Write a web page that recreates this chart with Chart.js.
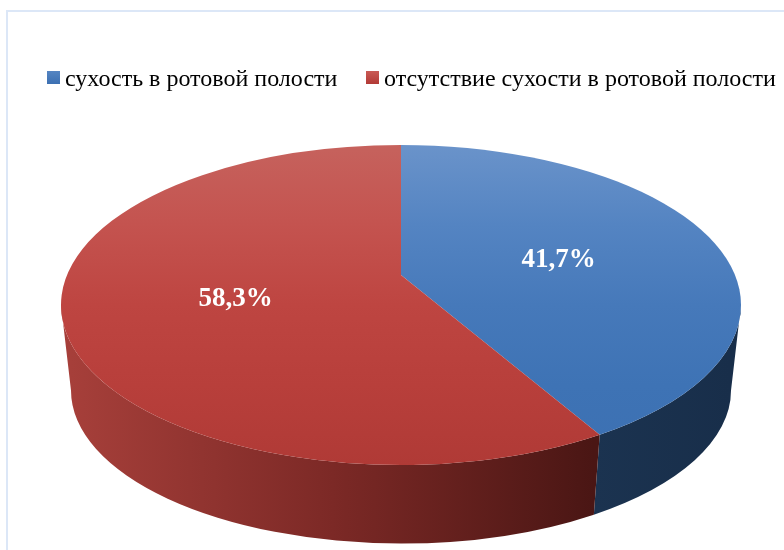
<!DOCTYPE html>
<html lang="ru">
<head>
<meta charset="utf-8">
<title>Сухость в ротовой полости</title>
<script src="https://cdn.jsdelivr.net/npm/chart.js@4"></script>
<style>
  html, body { margin: 0; padding: 0; background: #fff; }
  #wrap { width: 784px; height: 550px; }
</style>
</head>
<body>
<div id="wrap"><canvas id="chart" width="784" height="550"></canvas></div>
<script>
// Chart content
const categories = ['сухость в ротовой полости', 'отсутствие сухости в ротовой полости'];
const shares = [41.7, 58.3];

// Colours per slice: top face (upper to lower), rim (left to right)
const topColours = [['#6a93ca', '#5484c2', '#4679ba', '#3e73b5', '#3c70b2'], ['#c6625d', '#c4534f', '#be4541', '#b83f3b', '#b03a36']];
const rimColours = [['#1b3350', '#182e4a'], ['#a63f3a', '#7c2926', '#4a1614']];
const legendColours = [['#5585c2', '#3c70b2'], ['#c95a55', '#b23a36']];

// Tilted-disc geometry, relative to the radius the pie controller hands out
const WIDTH_RATIO = 340 / 160;      // top ellipse rx / ry
const APEX_SHIFT = -30 / 160;       // perspective pull of the pie centre
const RIM_RX = 330 / 160;           // lower ellipse rx / top ry
const RIM_RY = 153 / 160;
const RIM_DROP = 85.5 / 160;        // lower ellipse centre below the top one

// Unit disc angle (clockwise from 12 o'clock) to a perspective point on the ellipse
function project(angle, r) {
  const u = Math.sin(angle) * r;
  const v = -Math.cos(angle) * r;
  const d = 1 + APEX_SHIFT * v;
  return {
    X: u * Math.sqrt(1 - APEX_SHIFT * APEX_SHIFT) / d,
    Y: (v + APEX_SHIFT) / d
  };
}

const verticalGradient = (ctx, y0, y1, stops) => {
  const g = ctx.createLinearGradient(0, y0, 0, y1);
  stops.forEach((c, i) => g.addColorStop(i / (stops.length - 1), c));
  return g;
};
const horizontalGradient = (ctx, x0, x1, stops) => {
  const g = ctx.createLinearGradient(x0, 0, x1, 0);
  stops.forEach((c, i) => g.addColorStop(i / (stops.length - 1), c));
  return g;
};

const tiltedPie = {
  id: 'tiltedPie',
  beforeDatasetDraw(chart, args) {
    const ctx = chart.ctx;
    const arcs = args.meta.data;
    const first = arcs[0];
    const ry = first.outerRadius;
    const rx = ry * WIDTH_RATIO;
    const cx = first.x;
    const cy = first.y;
    const rimX = ry * RIM_RX;
    const rimY = ry * RIM_RY;
    const rimCy = cy + ry * RIM_DROP;

    const slices = arcs.map(arc => {
      const a0 = arc.startAngle + Math.PI / 2;
      const a1 = arc.endAngle + Math.PI / 2;
      const p0 = project(a0, 1);
      const p1 = project(a1, 1);
      let t0 = Math.atan2(p0.Y, p0.X);
      let t1 = Math.atan2(p1.Y, p1.X);
      if (t1 <= t0) t1 += Math.PI * 2;
      return { a0, a1, t0, t1 };
    });

    // Rim: only the part of each slice facing the viewer
    slices.forEach((s, i) => {
      const from = Math.max(s.t0, 0);
      const to = Math.min(s.t1, Math.PI);
      if (to <= from) return;
      ctx.beginPath();
      ctx.ellipse(cx, cy, rx, ry, 0, from, to, false);
      ctx.ellipse(cx, rimCy, rimX, rimY, 0, to, from, true);
      ctx.closePath();
      const x0 = cx + rimX * Math.cos(to);
      const x1 = cx + rimX * Math.cos(from);
      ctx.fillStyle = horizontalGradient(ctx, x0, x1, rimColours[i]);
      ctx.fill();
    });

    // Top face
    const apexY = cy + APEX_SHIFT * ry;
    slices.forEach((s, i) => {
      ctx.beginPath();
      ctx.moveTo(cx, apexY);
      ctx.ellipse(cx, cy, rx, ry, 0, s.t0, s.t1, false);
      ctx.closePath();
      ctx.fillStyle = verticalGradient(ctx, cy - ry, cy + ry, topColours[i]);
      ctx.fill();
    });

    // Value labels at half radius along each slice's middle direction
    ctx.save();
    ctx.fillStyle = '#fff';
    ctx.font = 'bold 27px "Liberation Serif", serif';
    ctx.textAlign = 'center';
    ctx.textBaseline = 'middle';
    slices.forEach((s, i) => {
      const p = project((s.a0 + s.a1) / 2, 0.5);
      const text = shares[i].toFixed(1).replace('.', ',') + '%';
      ctx.fillText(text, cx + p.X * rx, cy + p.Y * ry + 4);
    });
    ctx.restore();
    return false;
  },
  beforeDraw(chart) {
    // Thin outer frame, open on the right and at the bottom
    const ctx = chart.ctx;
    ctx.save();
    ctx.strokeStyle = '#dce7f7';
    ctx.lineWidth = 2;
    ctx.beginPath();
    ctx.moveTo(784, 11);
    ctx.lineTo(7, 11);
    ctx.lineTo(7, 550);
    ctx.stroke();
    ctx.restore();
  },
  afterDraw(chart) {
    // Legend row with a tight swatch-to-text gap
    const ctx = chart.ctx;
    const swatchX = [47, 366];
    ctx.save();
    ctx.font = '24px "Liberation Serif", serif';
    ctx.textBaseline = 'middle';
    ctx.textAlign = 'left';
    chart.data.labels.forEach((label, i) => {
      ctx.fillStyle = verticalGradient(ctx, 71, 84, legendColours[i]);
      ctx.fillRect(swatchX[i], 71, 13, 13);
      ctx.fillStyle = '#000';
      ctx.fillText(label, swatchX[i] + 18, 80);
    });
    ctx.restore();
  }
};

new Chart(document.getElementById('chart'), {
  type: 'pie',
  data: {
    labels: categories,
    datasets: [{ data: shares, borderWidth: 0, backgroundColor: ['#4372b4', '#b83f3b'] }]
  },
  options: {
    responsive: false,
    animation: false,
    layout: { padding: { left: 61, right: 43, top: 145, bottom: 85 } },
    plugins: { legend: { display: false }, tooltip: { enabled: false } }
  },
  plugins: [tiltedPie]
});
</script>
</body>
</html>
